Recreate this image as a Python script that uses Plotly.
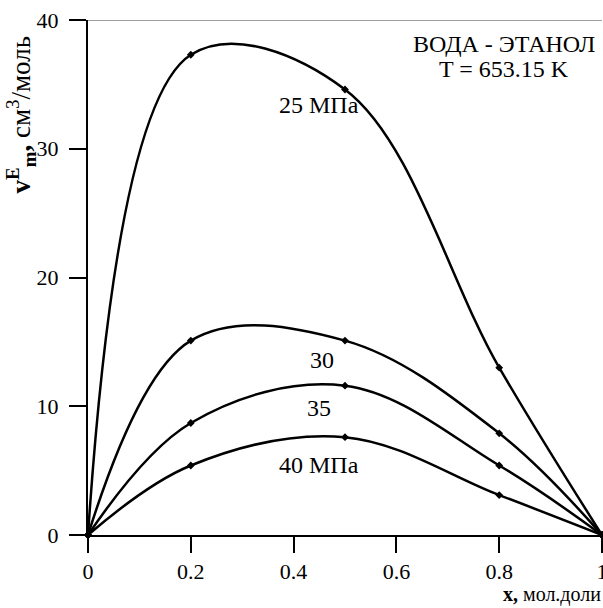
import plotly.graph_objects as go

x_vals = [0, 0.2, 0.5, 0.8, 1.0]
v25 = [0, 37.3, 34.6, 13.0, 0]
v30 = [0, 15.1, 15.1, 7.9, 0]
v35 = [0, 8.7, 11.6, 5.4, 0]
v40 = [0, 5.4, 7.6, 3.1, 0]
series = [v25, v30, v35, v40]

x_ticks = [0, 0.2, 0.4, 0.6, 0.8, 1]
x_tick_text = ["0", "0.2", "0.4", "0.6", "0.8", "1"]
y_ticks = [0, 10, 20, 30, 40]

FONT = "Liberation Serif, Times New Roman, serif"

fig = go.Figure()
for s in series:
    fig.add_trace(go.Scatter(
        x=x_vals, y=s, mode="lines+markers",
        line=dict(color="black", width=2.5, shape="spline", smoothing=1.05),
        marker=dict(symbol="diamond", size=6, color="black"),
        showlegend=False, cliponaxis=False,
    ))

fig.add_shape(type="line", xref="x", yref="y", x0=0, x1=1, y0=40, y1=40,
              line=dict(color="#808080", width=1.5))

labels = [
    (0.45, 33.4, "25 МПа"),
    (0.455, 13.6, "30"),
    (0.45, 9.9, "35"),
    (0.45, 5.4, "40 МПа"),
]
for lx, ly, t in labels:
    fig.add_annotation(x=lx, y=ly, text=t, showarrow=False,
                       font=dict(family=FONT, size=24, color="black"))

fig.add_annotation(x=0.81, y=38.1, text="ВОДА - ЭТАНОЛ", showarrow=False,
                   font=dict(family=FONT, size=24, color="black"))
fig.add_annotation(x=0.81, y=36.2, text="T = 653.15 K", showarrow=False,
                   font=dict(family=FONT, size=24, color="black"))

fig.add_annotation(xref="paper", yref="paper", x=-0.13, y=0.815,
                   xanchor="center", yanchor="middle", textangle=-90,
                   text="<b>v<sup>E</sup><sub>m</sub>,</b> см<sup>3</sup>/моль",
                   showarrow=False, font=dict(family=FONT, size=27, color="black"))
fig.add_annotation(xref="paper", yref="paper", x=1.0, y=-0.139,
                   xanchor="right", yanchor="bottom", borderpad=0,
                   text="<b>x,</b> мол.доли",
                   showarrow=False, font=dict(family=FONT, size=20, color="black"))

fig.update_layout(
    width=603, height=608,
    margin=dict(l=88, r=1, t=20, b=73),
    plot_bgcolor="white", paper_bgcolor="white",
    font=dict(family=FONT, size=22, color="black"),
    xaxis=dict(range=[0, 1], tickvals=x_ticks, ticktext=x_tick_text,
               showgrid=False, zeroline=False, showline=True,
               linecolor="black", linewidth=2, ticks="outside",
               ticklen=16, tickwidth=2, tickcolor="black", automargin=False,
               ticklabeloverflow="allow",
               tickfont=dict(family=FONT, size=22, color="black")),
    yaxis=dict(range=[0, 40], tickvals=y_ticks,
               showgrid=False, zeroline=False, showline=True,
               linecolor="black", linewidth=2, ticks="outside",
               ticklen=17, tickwidth=2, tickcolor="black", automargin=False,
               ticklabelstandoff=6,
               tickfont=dict(family=FONT, size=22, color="black")),
)

fig.write_html("out.html")
